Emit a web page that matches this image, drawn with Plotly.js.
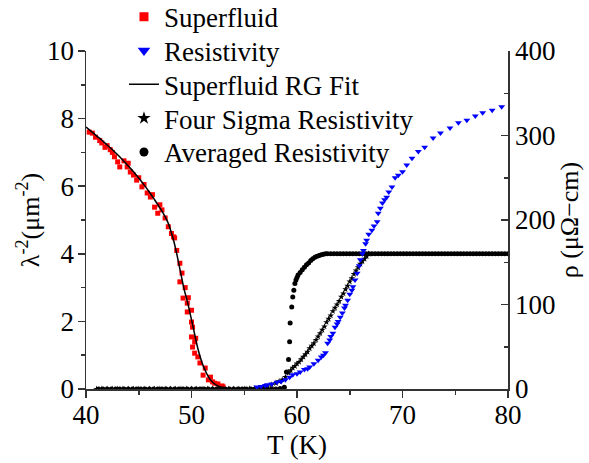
<!DOCTYPE html>
<html>
<head>
<meta charset="utf-8">
<script src="https://cdn.plot.ly/plotly-3.0.1.min.js"></script>
<style>
html,body{margin:0;padding:0;background:#fff;font-family:'Liberation Serif','Times New Roman',serif;}
#chart{width:589px;height:463px;}
#chart text{font-family:'Liberation Serif','Times New Roman',serif !important;}
</style>
</head>
<body>
<div id="chart"></div>
<script>
// Superfluid density lambda^-2 (um^-2) vs T (K)
var superT = [40.3,40.6,40.9,41.3,41.5,41.8,42.0,42.3,42.5,42.7,43.0,43.2,43.6,43.9,44.0,44.2,44.5,44.8,45.0,45.3,45.5,45.8,46.1,46.3,46.5,46.8,47.0,47.2,47.5,47.8,48.1,48.3,48.4,48.6,48.9,48.9,49.1,49.2,49.4,49.6,49.6,49.7,50.0,50.0,50.1,50.0,50.3,50.4,50.1,50.3,50.6,50.8,51.1,51.3,51.6,51.8,52.0,52.2,52.5,52.9,53.0];
var superL = [7.60,7.57,7.45,7.35,7.28,7.15,7.20,7.08,7.00,6.87,6.72,6.57,6.75,6.57,6.68,6.42,6.33,6.18,6.25,5.98,6.05,5.80,5.68,5.75,5.38,5.20,5.45,5.30,5.06,4.80,4.60,4.50,4.47,4.10,3.72,3.17,3.43,2.69,3.00,2.54,2.28,2.70,2.33,1.98,1.83,1.54,1.39,1.50,1.24,1.06,0.95,0.77,0.41,0.62,0.27,0.35,0.21,0.17,0.15,0.09,0.06];

// RG fit curve
var fitT = [40.0,40.5,41.0,41.5,42.0,42.5,43.0,43.5,44.0,44.5,45.0,45.5,46.0,46.5,47.0,47.5,47.8,48.0,48.3,48.6,49.0,49.3,49.6,50.0,50.3,50.6,51.0,51.3,51.6,52.0,52.4,52.8,53.2,53.5];
var fitL = [7.75,7.62,7.49,7.36,7.22,7.08,6.93,6.77,6.60,6.43,6.24,6.04,5.83,5.60,5.36,5.10,4.90,4.72,4.40,4.00,3.40,2.95,2.60,2.05,1.62,1.20,0.78,0.55,0.36,0.20,0.11,0.05,0.02,0.01];

// Resistivity rho (uOhm-cm) vs T (K)
var resT = [56.2,56.6,57.0,57.2,57.6,58.1,58.5,58.9,59.3,59.6,60.0,60.3,60.7,61.0,61.2,61.6,62.0,62.3,62.5,62.7,62.9,63.1,63.2,63.4,63.6,63.8,63.9,64.1,64.3,64.5,64.6,64.8,65.0,65.2,65.3,65.5,65.7,65.9,66.0,66.2,66.3,66.5,66.6,66.8,67.1,67.3,67.6,67.7,67.9,68.1,68.3,68.5,68.7,69.0,69.3,69.6,70.0,70.4,70.9,71.5,72.1,72.9,73.6,74.5,75.3,76.1,76.9,77.6,78.5,79.4];
var resR = [2.4,3,4,5,6,8,9,11,14,17,18,20,23,24,26,30,34,38,40,43,54,58,62,66,73,77,80,85,90,96,99,105,112,117,121,129,137,146,153,160,164,172,176,183,188,193,198,208,214,220,224,227,233,239,250,253,257,265,273,281,286,297,303,309,315,318,323,327,330,334];

// Four sigma resistivity
var sigT = [41.0,41.5,42.0,42.5,43.0,43.5,44.0,44.5,45.0,45.5,46.0,46.5,47.0,47.5,48.0,48.5,49.0,49.5,50.0,50.5,51.0,51.5,52.0,52.5,53.0,53.5,54.0,54.5,55.0,55.5,56.0,56.4,56.8,57.2,57.6,58.0,58.3,58.6,58.9,59.2,59.4,59.6,59.8,60.0,60.2,60.4,60.6,60.8,61.0,61.2,61.4,61.6,61.8,62.0,62.2,62.4,62.6,62.8,63.0,63.2,63.4,63.6,63.8,64.0,64.2,64.4,64.6,64.8,65.0,65.2,65.4,65.6,65.8,66.0,66.2,66.4,66.6,66.8];
var sigR = [0,0,0,0,0,0,0,0,0,0,0,0,0,0,0,0,0,0,0,0,0,0,0,0,0,0,0,0,0,0.2,0.5,1,2,3,5,7,9,11,14,19,22,25,27,30,32,35,38,41,44,48,51,54,58,62,66,70,74,79,83,87,92,96,100,104,109,113,118,122,127,131,136,140,144,148,151,154,157,160];

// Averaged resistivity
var avgT = [41.2,41.6,42.0,42.4,42.8,43.2,43.6,44.0,44.4,44.8,45.2,45.6,46.0,46.4,46.8,47.2,47.6,48.0,48.4,48.8,49.2,49.6,50.0,50.4,50.8,51.2,51.6,52.0,52.4,52.8,53.2,53.6,54.0,54.4,54.8,55.2,55.6,56.0,56.4,56.8,57.2,57.6,58.0,58.4,58.8,59.0,59.2,59.3,59.35,59.5,59.6,59.7,59.8,59.9,60.0,60.1,60.3,60.5,60.7,60.9,61.1,61.3,61.5,61.7,61.9,62.1,62.3,62.5,62.7,62.9,63.2,63.5,63.8,64.1,64.4,64.7,65.0,65.3,65.6,65.9,66.2,66.5,66.8,67.1,67.4,67.7,68.0,68.3,68.6,68.9,69.2,69.5,69.8,70.1,70.4,70.7,71.0,71.3,71.6,71.9,72.2,72.5,72.8,73.1,73.4,73.7,74.0,74.3,74.6,74.9,75.2,75.5,75.8,76.1,76.4,76.7,77.0,77.3,77.6,77.9,78.2,78.5,78.8,79.1,79.4,79.7,80.0];
var avgR = [0,0,0,0,0,0,0,0,0,0,0,0,0,0,0,0,0,0,0,0,0,0,0,0,0,0,0,0,0,0,0,0,0,0,0,0,0,0,0,0,0,0,0,0.5,2,20,35,56,78,97,109,117,125,129,132,135,138,141,144,147,149,152,154,156,157,158,159,159.5,160,160,160,160,160,160,160,160,160,160,160,160,160,160,160,160,160,160,160,160,160,160,160,160,160,160,160,160,160,160,160,160,160,160,160,160,160,160,160,160,160,160,160,160,160,160,160,160,160,160,160,160,160,160,160,160,160,160,160];

var legendNames = ['Superfluid', 'Resistivity', 'Superfluid RG Fit', 'Four Sigma Resistivity', 'Averaged Resistivity'];

var FONT = 'Times New Roman';

var traces = [
  {x: avgT, y: avgR, yaxis: 'y2', mode: 'markers', type: 'scatter', showlegend: false,
   marker: {symbol: 'circle', size: 5, color: '#000'}},
  {x: sigT, y: sigR, yaxis: 'y2', mode: 'markers', type: 'scatter', showlegend: false,
   marker: {symbol: 'star', size: 5, color: '#000'}},
  {x: resT, y: resR, yaxis: 'y2', mode: 'markers', type: 'scatter', showlegend: false,
   marker: {symbol: 'triangle-down', size: 6, color: '#0000ff'}},
  {x: superT, y: superL, mode: 'markers', type: 'scatter', showlegend: false,
   marker: {symbol: 'square', size: 5, color: '#ff0000'}},
  {x: fitT, y: fitL, mode: 'lines', type: 'scatter', showlegend: false,
   line: {color: '#000', width: 1.5, shape: 'spline'}},
  {x: [null], y: [null], mode: 'markers', name: legendNames[0], legend: 'legend', marker: {symbol: 'square', size: 9, color: '#ff0000'}},
  {x: [null], y: [null], mode: 'markers', name: legendNames[1], legend: 'legend2', marker: {symbol: 'triangle-down', size: 11, color: '#0000ff'}},
  {x: [null], y: [null], mode: 'lines', name: legendNames[2], legend: 'legend3', line: {color: '#000', width: 1.5}},
  {x: [null], y: [null], mode: 'markers', name: legendNames[3], legend: 'legend4', marker: {symbol: 'star', size: 10, color: '#000'}},
  {x: [null], y: [null], mode: 'markers', name: legendNames[4], legend: 'legend5', marker: {symbol: 'circle', size: 9, color: '#000'}}
];

function legendAt(yc) {
  return {x: 0.09, y: yc, xanchor: 'left', yanchor: 'middle', bgcolor: 'rgba(0,0,0,0)',
          borderwidth: 0, font: {family: FONT, size: 27, color: '#000'}};
}

function axisCommon() {
  return {
    showgrid: false, zeroline: false, showline: true, linecolor: '#333', linewidth: 1.5,
    ticks: 'outside', ticklen: 7, tickwidth: 1.5, tickcolor: '#333',
    tickfont: {family: FONT, size: 27, color: '#000'}
  };
}

var layout = {
  width: 589, height: 463,
  margin: {l: 86, r: 81, t: 51, b: 74, autoexpand: false},
  paper_bgcolor: '#fff', plot_bgcolor: '#fff',
  font: {family: FONT, size: 26, color: '#000'},
  showlegend: true,
  legend: legendAt(1.10),
  legend2: legendAt(1.00),
  legend3: legendAt(0.90),
  legend4: legendAt(0.80),
  legend5: legendAt(0.70),
  xaxis: Object.assign(axisCommon(), {
    range: [40, 80], tickmode: 'array', tickvals: [40, 50, 60, 70, 80],
    ticklabelstandoff: -6,
    minor: {tickvals: [45, 55, 65, 75], ticks: 'outside', ticklen: 4, tickwidth: 1.5, tickcolor: '#333'},
    title: {text: 'T (K)', font: {family: FONT, size: 27, color: '#000'}, standoff: 0}
  }),
  yaxis: Object.assign(axisCommon(), {
    range: [0, 10], tickmode: 'array', tickvals: [0, 2, 4, 6, 8, 10],
    ticklabelstandoff: -2,
    minor: {tickvals: [1, 3, 5, 7, 9], ticks: 'outside', ticklen: 4, tickwidth: 1.5, tickcolor: '#333'},
    title: {text: 'λ<sup>-2</sup>(μm<sup>-2</sup>)', font: {family: FONT, size: 26, color: '#000'}, standoff: 0}
  }),
  yaxis2: Object.assign(axisCommon(), {
    overlaying: 'y', side: 'right', anchor: 'x',
    range: [0, 400], tickmode: 'array', tickvals: [0, 100, 200, 300, 400],
    ticks: 'inside',
    minor: {tickvals: [50, 150, 250, 350], ticks: 'inside', ticklen: 4, tickwidth: 1.5, tickcolor: '#333'},
    title: {text: 'ρ (μΩ−cm)', font: {family: FONT, size: 26, color: '#000'}, standoff: 3}
  })
};

Plotly.newPlot('chart', traces, layout, {displayModeBar: false, staticPlot: true});
</script>
</body>
</html>
